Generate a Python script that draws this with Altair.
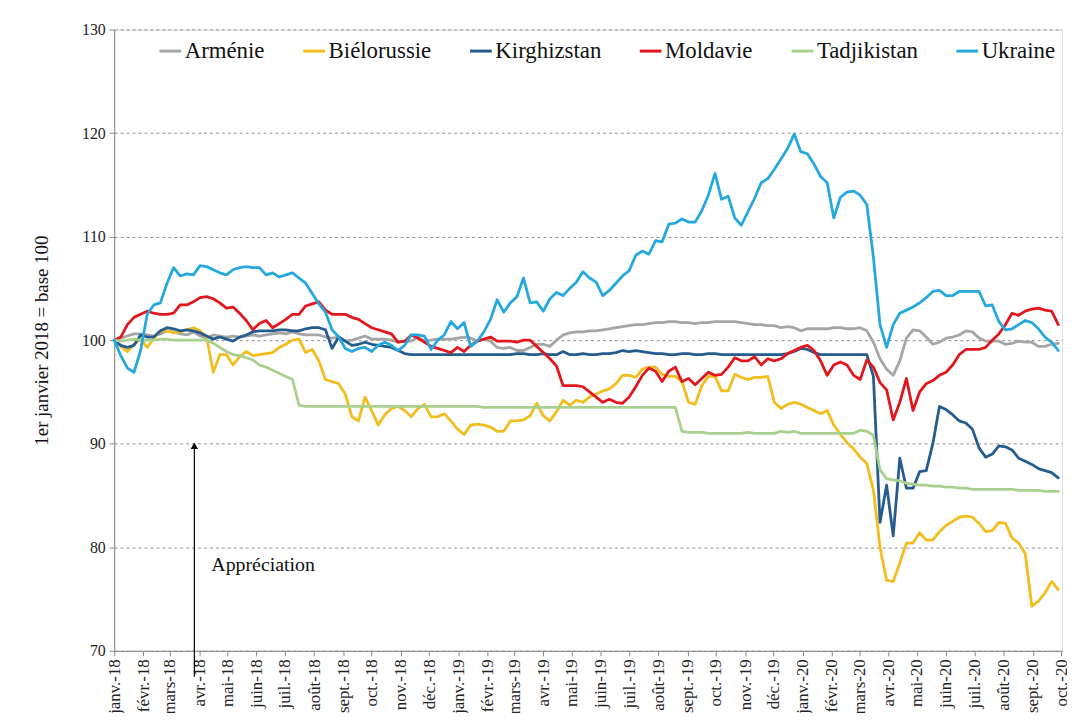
import altair as alt
import pandas as pd

# ---------------- data (weekly, base 100 = 1 Jan 2018) ----------------
countries = ["Arménie", "Biélorussie", "Kirghizstan", "Moldavie", "Tadjikistan", "Ukraine"]
colors = ["#A5A5A5", "#F2BD1D", "#255C8E", "#E2161C", "#A9D08E", "#25A8DD"]

start_date = "2018-01-01"
n_weeks = 144

armenie = [100.0, 100.2, 100.4, 100.6, 100.6, 100.5, 100.4, 100.6, 100.9, 100.8,
           100.6, 100.5, 100.8, 100.4, 100.2, 100.5, 100.4, 100.3, 100.4, 100.3,
           100.4, 100.5, 100.4, 100.5, 100.6, 100.7, 100.6, 100.8, 100.6, 100.5,
           100.5, 100.5, 100.3, 100.2, 100.3, 99.9, 100.0, 100.2, 100.4, 100.1,
           100.1, 100.1, 100.0, 99.8, 99.9, 99.9, 100.3, 99.9, 100.0, 100.1,
           100.1, 100.1, 100.2, 100.3, 100.2, 99.9, 100.1, 99.9, 99.3, 99.2,
           99.3, 99.0, 99.0, 99.3, 99.6, 99.6, 99.4, 100.0, 100.5, 100.7,
           100.8, 100.8, 100.9, 100.9, 101.0, 101.1, 101.2, 101.3, 101.4, 101.5,
           101.5, 101.6, 101.7, 101.7, 101.8, 101.8, 101.7, 101.7, 101.6, 101.7,
           101.7, 101.8, 101.8, 101.8, 101.8, 101.7, 101.6, 101.5, 101.5, 101.4,
           101.4, 101.2, 101.3, 101.2, 100.9, 101.1, 101.1, 101.1, 101.1, 101.2,
           101.2, 101.1, 101.1, 101.2, 100.9, 99.8, 98.2, 97.2, 96.6, 98.0,
           100.2, 101.0, 100.9, 100.3, 99.6, 99.8, 100.2, 100.3, 100.5, 100.9,
           100.8, 100.2, 99.9, 99.9, 99.9, 99.6, 99.7, 99.9, 99.8, 99.8,
           99.4, 99.4, 99.6, 99.7]

bielorussie = [100.0, 99.4, 98.9, 99.6, 100.1, 99.3, 100.2, 100.9, 100.9, 100.7,
               100.8, 101.0, 101.2, 100.9, 100.3, 96.9, 98.6, 98.6, 97.6, 98.4,
               98.9, 98.5, 98.6, 98.7, 98.8, 99.3, 99.6, 100.0, 100.1, 98.8,
               99.1, 98.0, 96.2, 96.0, 95.8, 94.8, 92.6, 92.2, 94.5, 93.2,
               91.8, 92.8, 93.4, 93.6, 93.2, 92.6, 93.4, 93.8, 92.6, 92.6,
               92.9, 92.2, 91.4, 90.9, 91.8, 91.9, 91.8, 91.6, 91.2, 91.2,
               92.2, 92.2, 92.3, 92.7, 93.9, 92.7, 92.2, 93.1, 94.2, 93.7,
               94.2, 94.0, 94.5, 94.8, 95.1, 95.3, 95.8, 96.6, 96.6, 96.4,
               97.2, 97.4, 97.4, 96.7, 96.5, 96.5, 96.0, 94.0, 93.8, 95.6,
               96.5, 96.5, 95.1, 95.1, 96.7, 96.4, 96.2, 96.4, 96.4, 96.5,
               94.0, 93.4, 93.8, 94.0, 93.8, 93.5, 93.2, 92.9, 93.2, 91.8,
               90.9, 90.1, 89.5, 88.7, 88.1, 85.5, 80.0, 76.8, 76.7, 78.5,
               80.4, 80.4, 81.4, 80.7, 80.7, 81.5, 82.1, 82.5, 82.9, 83.0,
               82.9, 82.3, 81.5, 81.6, 82.4, 82.3, 80.9, 80.4, 79.4, 74.3,
               74.8, 75.6, 76.7, 75.9]

kirghizstan = [100.0, 99.5, 99.3, 99.5, 100.5, 100.3, 100.3, 100.9, 101.2, 101.1,
               100.9, 101.0, 100.9, 100.7, 100.4, 100.1, 100.3, 100.1, 99.9, 100.3,
               100.5, 100.8, 100.9, 100.9, 100.9, 101.0, 101.0, 100.9, 100.9, 101.1,
               101.2, 101.2, 101.0, 99.2, 100.3, 99.9, 99.5, 99.6, 99.8, 99.6,
               99.5, 99.4, 99.3, 99.0, 98.7, 98.6, 98.6, 98.6, 98.6, 98.6,
               98.6, 98.6, 98.6, 98.6, 98.6, 98.6, 98.6, 98.6, 98.6, 98.6,
               98.6, 98.7, 98.7, 98.6, 98.6, 98.7, 98.6, 98.6, 98.9, 98.6,
               98.6, 98.7, 98.6, 98.6, 98.7, 98.7, 98.8, 99.0, 98.9, 99.0,
               98.9, 98.8, 98.7, 98.7, 98.6, 98.6, 98.7, 98.7, 98.6, 98.6,
               98.7, 98.7, 98.6, 98.6, 98.6, 98.6, 98.6, 98.6, 98.6, 98.6,
               98.6, 98.6, 98.7, 98.9, 99.2, 99.1, 98.8, 98.6, 98.6, 98.6,
               98.6, 98.6, 98.6, 98.6, 98.6, 96.5, 82.4, 86.0, 81.1, 88.6,
               85.7, 85.7, 87.3, 87.4, 90.0, 93.6, 93.3, 92.8, 92.2, 92.0,
               91.4, 89.6, 88.7, 89.0, 89.8, 89.7, 89.4, 88.6, 88.3, 88.0,
               87.6, 87.4, 87.2, 86.7]

moldavie = [100.0, 100.3, 101.5, 102.2, 102.5, 102.8, 102.6, 102.5, 102.5, 102.6,
            103.4, 103.4, 103.7, 104.1, 104.2, 104.0, 103.6, 103.1, 103.2, 102.6,
            101.9, 101.0, 101.6, 101.9, 101.2, 101.6, 102.0, 102.5, 102.5, 103.3,
            103.5, 103.7, 102.9, 102.5, 102.5, 102.5, 102.2, 102.0, 101.6, 101.2,
            101.0, 100.8, 100.6, 99.8, 99.9, 100.5, 100.2, 99.8, 99.4, 99.2,
            99.0, 98.8, 99.3, 98.9, 99.5, 99.9, 100.1, 100.3, 99.9, 99.9,
            99.9, 99.8, 100.0, 100.0, 99.4, 98.8, 98.2, 97.5, 95.6, 95.6,
            95.6, 95.5, 95.0, 94.5, 94.0, 94.3, 94.0, 93.9, 94.5, 95.5,
            96.6, 97.3, 97.0, 96.0, 97.0, 97.4, 96.0, 96.3, 95.7, 96.3,
            96.9, 96.6, 96.7, 97.4, 98.3, 98.0, 98.0, 98.4, 97.6, 98.2,
            98.0, 98.2, 98.7, 99.0, 99.3, 99.5, 99.0, 98.0, 96.6, 97.6,
            97.9, 97.6, 96.6, 96.2, 98.1, 97.4, 95.9, 95.2, 92.3, 94.0,
            96.3, 93.2, 95.0, 95.8, 96.1, 96.6, 96.9, 97.6, 98.6, 99.1,
            99.1, 99.1, 99.3, 100.0, 100.6, 101.5, 102.6, 102.4, 102.8, 103.0,
            103.1, 102.9, 102.8, 101.5]

tadjikistan = [100.0, 99.9, 100.0, 100.1, 100.0, 100.0, 100.0, 100.1, 100.1, 100.0,
               100.0, 100.0, 100.0, 100.0, 100.0, 99.7, 99.3, 98.9, 98.6, 98.5,
               98.3, 98.1, 97.6, 97.4, 97.1, 96.8, 96.5, 96.2, 93.7, 93.6,
               93.6, 93.6, 93.6, 93.6, 93.6, 93.6, 93.6, 93.6, 93.6, 93.6,
               93.6, 93.6, 93.6, 93.6, 93.6, 93.6, 93.6, 93.6, 93.6, 93.6,
               93.6, 93.6, 93.6, 93.6, 93.6, 93.6, 93.5, 93.5, 93.5, 93.5,
               93.5, 93.5, 93.5, 93.5, 93.5, 93.5, 93.5, 93.5, 93.5, 93.5,
               93.5, 93.5, 93.5, 93.5, 93.5, 93.5, 93.5, 93.5, 93.5, 93.5,
               93.5, 93.5, 93.5, 93.5, 93.5, 93.5, 91.2, 91.1, 91.1, 91.1,
               91.0, 91.0, 91.0, 91.0, 91.0, 91.0, 91.1, 91.0, 91.0, 91.0,
               91.0, 91.2, 91.1, 91.2, 91.0, 91.0, 91.0, 91.0, 91.0, 91.0,
               91.0, 91.0, 91.0, 91.3, 91.2, 90.8, 87.5, 86.6, 86.5, 86.4,
               86.2, 86.1, 86.0, 86.0, 85.9, 85.9, 85.8, 85.8, 85.7, 85.7,
               85.6, 85.6, 85.6, 85.6, 85.6, 85.6, 85.6, 85.5, 85.5, 85.5,
               85.5, 85.4, 85.4, 85.4]

ukraine = [100.0, 98.5, 97.3, 96.9, 99.0, 102.5, 103.4, 103.6, 105.5, 107.0,
           106.2, 106.4, 106.3, 107.2, 107.1, 106.8, 106.5, 106.3, 106.8, 107.0,
           107.1, 107.0, 107.0, 106.3, 106.5, 106.1, 106.3, 106.5, 106.0, 105.5,
           104.5, 103.5, 102.7, 101.0, 100.3, 99.2, 98.9, 99.2, 99.3, 98.9,
           99.5, 99.8, 99.5, 99.0, 99.5, 100.5, 100.5, 100.4, 99.1, 100.0,
           100.5, 101.8, 101.1, 101.7, 99.4, 99.9, 100.8, 102.0, 103.9, 102.7,
           103.6, 104.2, 106.0, 103.6, 103.7, 102.8, 104.0, 104.6, 104.3, 105.0,
           105.6, 106.6, 106.0, 105.6, 104.3, 104.8, 105.5, 106.2, 106.7, 108.2,
           108.6, 108.3, 109.6, 109.5, 111.2, 111.3, 111.7, 111.4, 111.4, 112.5,
           114.0, 116.1, 113.6, 113.9, 111.8, 111.1, 112.4, 113.7, 115.2, 115.6,
           116.5, 117.5, 118.5, 119.9, 118.2, 118.0, 117.0, 115.8, 115.2, 111.8,
           113.8, 114.3, 114.4, 114.0, 113.1, 108.0, 101.5, 99.3, 101.5, 102.6,
           102.9, 103.2, 103.6, 104.1, 104.7, 104.8, 104.3, 104.3, 104.7, 104.7,
           104.7, 104.7, 103.3, 103.4, 101.8, 101.0, 101.1, 101.5, 101.9, 101.7,
           101.1, 100.3, 99.8, 99.0]

y_ticks = [70, 80, 90, 100, 110, 120, 130]
month_labels = ["janv.", "févr.", "mars", "avr.", "mai", "juin",
                "juil.", "août", "sept.", "oct.", "nov.", "déc."]

# annotation (arrow + text), in data units
arrow_date = ["2018-03-27"]
arrow_from = [67.5]
arrow_to = [89.6]
arrow_head = [89.8]
note_date = ["2018-04-14"]
note_value = [78.3]
note_text = ["Appréciation"]

# ---------------- build table ----------------
dates = pd.date_range(start_date, periods=n_weeks, freq="7D")
series = [armenie, bielorussie, kirghizstan, moldavie, tadjikistan, ukraine]
frames = []
for name, vals in zip(countries, series):
    frames.append(pd.DataFrame({"date": dates[:len(vals)], "pays": name, "valeur": vals}))
df = pd.concat(frames, ignore_index=True)

SERIF = "Liberation Serif, Times New Roman, serif"
x_domain = ["2018-01-01", "2020-10-02"]

label_expr = ("[" + ",".join("'" + m + "'" for m in month_labels) + "][month(datum.value)]"
              " + '-' + timeFormat(datum.value, '%y')")

x_enc = alt.X(
    "date:T",
    scale=alt.Scale(domain=x_domain, nice=False),
    axis=alt.Axis(
        title=None,
        tickCount={"interval": "month", "step": 1},
        labelExpr=label_expr,
        labelAngle=270,
        labelFont=SERIF,
        labelFontSize=17,
        labelColor="#222222",
        labelOverlap=False,
        labelFlush=False,
        labelPadding=3,
        grid=False,
        domainColor="#868686",
        tickColor="#868686",
        tickSize=5,
    ),
)

y_scale = alt.Scale(domain=[70, 130], nice=False, zero=False)

lines = alt.Chart(df).mark_line(strokeWidth=2.8, strokeJoin="round", strokeCap="round").encode(
    x=x_enc,
    y=alt.Y(
        "valeur:Q",
        scale=y_scale,
        axis=alt.Axis(
            values=y_ticks,
            title="1er janvier 2018 = base 100",
            titleFont=SERIF,
            titleFontSize=19,
            titleFontWeight="normal",
            titleColor="#111111",
            titlePadding=30,
            labelFont=SERIF,
            labelFontSize=16,
            labelColor="#222222",
            labelPadding=4,
            grid=True,
            gridDash=[3, 3],
            gridColor="#8f8f8f",
            gridWidth=1,
            domainColor="#868686",
            tickColor="#868686",
            tickSize=5,
        ),
    ),
    color=alt.Color(
        "pays:N",
        scale=alt.Scale(domain=countries, range=colors),
        legend=alt.Legend(
            title=None,
            orient="none",
            legendX=44,
            legendY=9,
            direction="horizontal",
            symbolType="stroke",
            symbolStrokeWidth=3,
            symbolSize=480,
            labelFont=SERIF,
            labelFontSize=23,
            labelColor="#111111",
            labelOffset=2,
            columnPadding=32,
        ),
    ),
)

arrow_df = pd.DataFrame({"date": pd.to_datetime(arrow_date), "y1": arrow_from, "y2": arrow_to,
                         "head": arrow_head})
arrow_line = alt.Chart(arrow_df).mark_rule(color="black", strokeWidth=1.2).encode(
    x="date:T", y=alt.Y("y1:Q", scale=y_scale), y2="y2:Q"
)
arrow_tip = alt.Chart(arrow_df).mark_point(shape="triangle-up", filled=True, color="black",
                                           size=55, opacity=1).encode(
    x="date:T", y=alt.Y("head:Q", scale=y_scale)
)

note_df = pd.DataFrame({"date": pd.to_datetime(note_date), "v": note_value, "t": note_text})
note = alt.Chart(note_df).mark_text(align="left", baseline="middle", font=SERIF,
                                    fontSize=20, color="#111111").encode(
    x="date:T", y=alt.Y("v:Q", scale=y_scale), text="t:N"
)

chart = alt.layer(lines, arrow_line, arrow_tip, note).properties(
    width=955,
    height=626,
    padding={"left": 107, "top": 19, "right": 5, "bottom": 60},
    autosize=alt.AutoSizeParams(type="none"),
).configure_view(stroke=None).configure(background="white")

chart.save("out.html", embed_options={"renderer": "svg", "actions": False})
